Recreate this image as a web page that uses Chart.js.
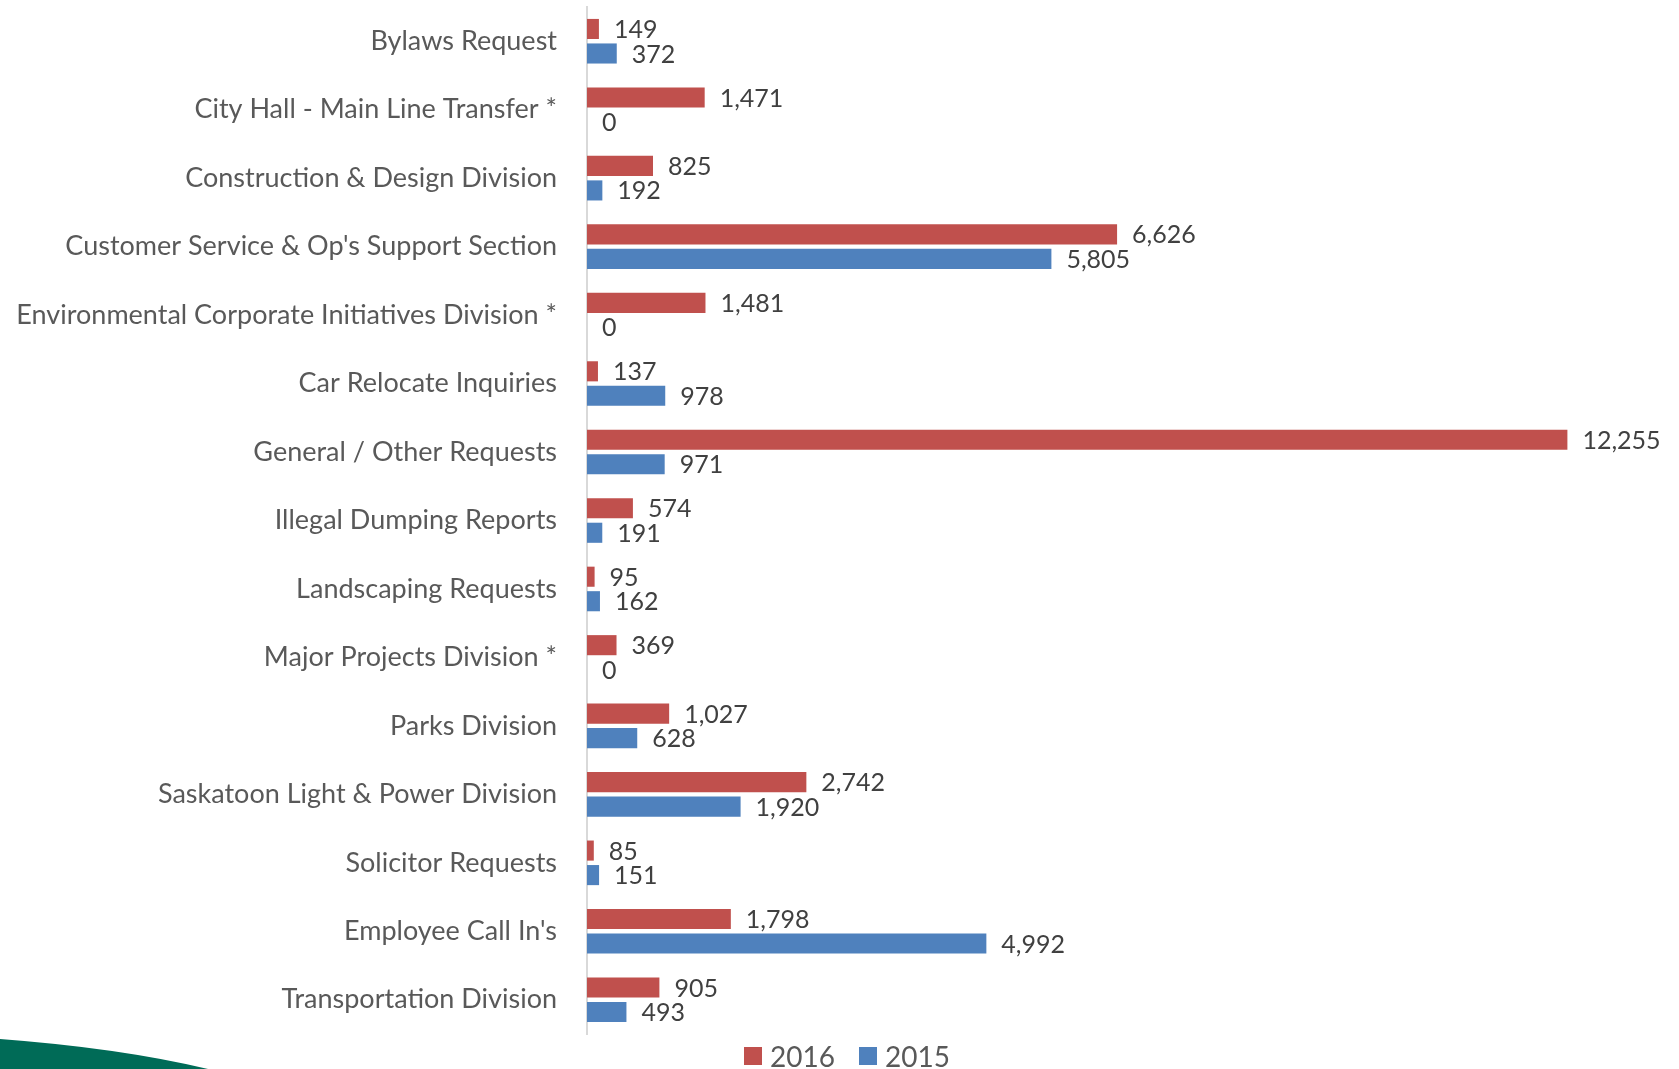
<!DOCTYPE html>
<html>
<head>
<meta charset="utf-8">
<script src="https://cdn.jsdelivr.net/npm/chart.js@4.4.1/dist/chart.umd.min.js"></script>
<style>
  html, body { margin: 0; padding: 0; background: #fff; }
  #wrap { position: relative; width: 1679px; height: 1069px; overflow: hidden; }
  #swoosh { position: absolute; left: 0; top: 0; }
  #myChart { position: absolute; left: 0; top: 0; }
  #legend { position: absolute; top: 1039px; left: 744px; display: flex; font-family: Lato, sans-serif; font-size: 28px; color: #595959; }
  #legend .item { display: flex; align-items: center; margin-right: 24px; }
  #legend .box { width: 18px; height: 18px; margin-right: 8px; }
</style>
</head>
<body>
<div id="wrap">
  <svg id="swoosh" width="1679" height="1069">
    <path d="M0,1039 Q120,1048 208,1069 L0,1069 Z" fill="#006b57"></path>
  </svg>
  <canvas id="myChart" width="1679" height="1069"></canvas>
  <div id="legend"></div>
</div>
<script>
const categories = [
  "Bylaws Request",
  "City Hall - Main Line Transfer *",
  "Construction & Design Division",
  "Customer Service & Op's Support Section",
  "Environmental Corporate Initiatives Division *",
  "Car Relocate Inquiries",
  "General / Other Requests",
  "Illegal Dumping Reports",
  "Landscaping Requests",
  "Major Projects Division *",
  "Parks Division",
  "Saskatoon Light & Power Division",
  "Solicitor Requests",
  "Employee Call In's",
  "Transportation Division",
];
const values2016 = [149, 1471, 825, 6626, 1481, 137, 12255, 574, 95, 369, 1027, 2742, 85, 1798, 905];
const values2015 = [372, 0, 192, 5805, 0, 978, 971, 191, 162, 0, 628, 1920, 151, 4992, 493];
const seriesNames = ["2016", "2015"];

// value labels at the end of each bar
const valueLabels = {
  id: "valueLabels",
  afterDatasetsDraw(chart) {
    const ctx = chart.ctx;
    ctx.save();
    ctx.font = "25px Lato, sans-serif";
    ctx.fillStyle = "#404040";
    ctx.textAlign = "left";
    ctx.textBaseline = "middle";
    chart.data.datasets.forEach((ds, i) => {
      chart.getDatasetMeta(i).data.forEach((bar, j) => {
        ctx.fillText(ds.data[j].toLocaleString("en-US"), bar.x + 15, bar.y + 1);
      });
    });
    ctx.restore();
  },
};

const ctx = document.getElementById("myChart").getContext("2d");
const chart = new Chart(ctx, {
  type: "bar",
  data: {
    labels: categories,
    datasets: [
      { label: seriesNames[0], data: values2016, backgroundColor: "#c0504d" },
      { label: seriesNames[1], data: values2015, backgroundColor: "#4f81bd" },
    ],
  },
  options: {
    indexAxis: "y",
    responsive: false,
    animation: false,
    layout: { padding: { left: 0, right: 52, top: 7, bottom: 35 } },
    datasets: { bar: { categoryPercentage: 0.716, barPercentage: 0.82 } },
    scales: {
      x: { display: false, min: 0, max: 13000 },
      y: {
        grid: { display: false, drawTicks: false },
        border: { display: true, color: "#d9d9d9", width: 2 },
        ticks: { padding: 30, color: "#595959", font: { family: "Lato, sans-serif", size: 27 } },
        afterFit: (scale) => {
          scale.width = 587;
          scale.paddingTop = 0; // labels never overflow the rows
          scale.paddingBottom = 0;
        },
      },
    },
    plugins: {
      legend: { display: false },
      tooltip: { enabled: false },
    },
  },
  plugins: [valueLabels],
});

// html legend built from the datasets
const legendEl = document.getElementById("legend");
chart.data.datasets.forEach((ds) => {
  const item = document.createElement("div");
  item.className = "item";
  item.innerHTML = '<span class="box" style="background:' + ds.backgroundColor + '"></span><span>' + ds.label + "</span>";
  legendEl.appendChild(item);
});
</script>
</body>
</html>
